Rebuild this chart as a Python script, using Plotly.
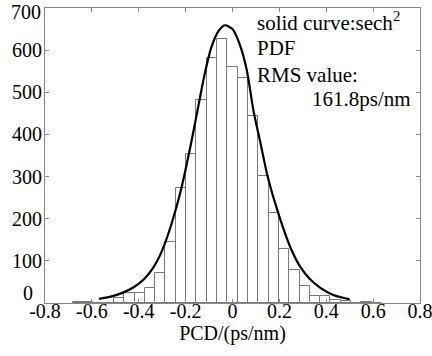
import plotly.graph_objects as go

bin_centers = [-0.660, -0.616, -0.572, -0.528, -0.484, -0.440, -0.396, -0.352, -0.308, -0.264,
               -0.220, -0.176, -0.132, -0.088, -0.044, 0.000, 0.044, 0.088, 0.132, 0.176,
               0.220, 0.264, 0.308, 0.352, 0.396, 0.440, 0.484, 0.528, 0.572, 0.616]
counts = [2, 2, 1, 1, 13, 24, 24, 35, 71, 144,
          273, 354, 482, 581, 626, 559, 533, 443, 301, 214,
          129, 79, 41, 16, 16, 8, 4, 0, 2, 1]
bin_width = 0.044

curve_x = [-0.57, -0.52, -0.47, -0.42, -0.38, -0.34, -0.30, -0.26, -0.22, -0.18, -0.15, -0.12,
           -0.09, -0.06, -0.033, 0.0, 0.03, 0.06, 0.09, 0.12, 0.15, 0.20, 0.25, 0.29, 0.33,
           0.375, 0.43, 0.50]
curve_y = [10, 15, 24, 38, 55, 82, 125, 188, 268, 370, 455, 540,
           607, 645, 659, 650, 615, 555, 455, 378, 300, 205, 128, 85, 57,
           36, 19, 9]

x_ticks = [-0.8, -0.6, -0.4, -0.2, 0, 0.2, 0.4, 0.6, 0.8]
x_tick_labels = ["-0.8", "-0.6", "-0.4", "-0.2", "0", "0.2", "0.4", "0.6", "0.8"]
y_ticks = [0, 100, 200, 300, 400, 500, 600, 700]
y_tick_labels = ["", "100", "200", "300", "400", "500", "600", ""]

font_family = "Liberation Serif"

fig = go.Figure()
fig.add_trace(go.Bar(x=bin_centers, y=counts, width=bin_width,
                     marker=dict(color="white", line=dict(color="#777777", width=1)),
                     showlegend=False))
fig.add_trace(go.Scatter(x=curve_x, y=curve_y, mode="lines",
                         line=dict(color="black", width=2.2, shape="spline", smoothing=0.8),
                         showlegend=False))

ann_font = dict(family=font_family, size=21, color="black")
fig.add_annotation(x=0.094, y=667, xref="x", yref="y", text="solid curve:sech<sup>2</sup>",
                   showarrow=False, xanchor="left", yanchor="middle", font=ann_font)
fig.add_annotation(x=0.094, y=606, xref="x", yref="y", text="PDF",
                   showarrow=False, xanchor="left", yanchor="middle", font=ann_font)
fig.add_annotation(x=0.094, y=540, xref="x", yref="y", text="RMS value:",
                   showarrow=False, xanchor="left", yanchor="middle", font=ann_font)
fig.add_annotation(x=0.772, y=484, xref="x", yref="y", text="161.8ps/nm",
                   showarrow=False, xanchor="right", yanchor="middle", font=ann_font)

tick_font = dict(family=font_family, size=20, color="black")
# end labels of the y axis, nudged inward as in the reference
fig.add_annotation(x=0, y=0, xref="paper", yref="y", text=str(y_ticks[0]), showarrow=False,
                   xanchor="right", yanchor="bottom", xshift=-10, yshift=-3, font=tick_font)
fig.add_annotation(x=0, y=700, xref="paper", yref="y", text=str(y_ticks[-1]), showarrow=False,
                   xanchor="right", yanchor="middle", xshift=-2, yshift=-4, font=tick_font)

axis_common = dict(showline=True, linecolor="#888888", linewidth=1, mirror="ticks",
                   ticks="inside", tickcolor="#888888", ticklen=4, showgrid=False,
                   zeroline=False, ticklabeloverflow="allow", automargin=False,
                   tickfont=tick_font)

fig.update_xaxes(range=[-0.8, 0.8], tickvals=x_ticks, ticktext=x_tick_labels,
                 ticklabelstandoff=-10,
                 title=dict(text="PCD/(ps/nm)", font=dict(family=font_family, size=20, color="black"),
                            standoff=0),
                 **axis_common)
fig.update_yaxes(range=[0, 700], tickvals=y_ticks, ticktext=y_tick_labels,
                 ticklabelstandoff=-2, **axis_common)

fig.update_layout(width=432, height=356, margin=dict(l=45, r=12, t=8, b=53),
                  paper_bgcolor="white", plot_bgcolor="white", bargap=0,
                  font=dict(family=font_family, color="black"))

fig.write_html("out.html")
